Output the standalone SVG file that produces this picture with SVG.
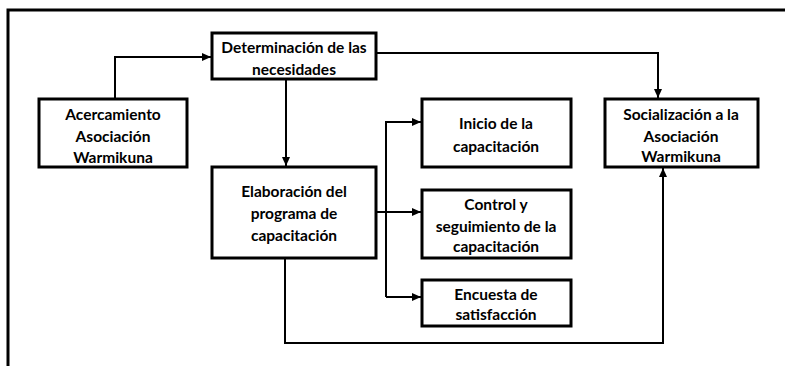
<svg xmlns="http://www.w3.org/2000/svg" width="785" height="366" viewBox="0 0 785 366">
<style>
.box{fill:#fff;stroke:#000;stroke-width:3}
.frame{fill:none;stroke:#000;stroke-width:3}
.con{fill:none;stroke:#000;stroke-width:2}
text{font-family:Lato,"Open Sans","Liberation Sans",sans-serif;font-weight:bold;font-size:15.5px;text-anchor:middle;fill:#000}
</style>
<defs>
<marker id="ah" viewBox="0 0 10 10" refX="10" refY="5" markerWidth="9" markerHeight="8" markerUnits="userSpaceOnUse" orient="auto" preserveAspectRatio="none">
<path d="M0,0 L10,5 L0,10 z" fill="#000"/>
</marker>
</defs>
<path class="frame" d="M8,366 V10 H785"/>
<g id="connectors">
<path class="con" d="M115,99 V57 H211" marker-end="url(#ah)"/>
<path class="con" d="M286,79 V166" marker-end="url(#ah)"/>
<path class="con" d="M376,53 H658 V98" marker-end="url(#ah)"/>
<path class="con" d="M376,212 H421" marker-end="url(#ah)"/>
<path class="con" d="M386,297 V122 H421" marker-end="url(#ah)"/>
<path class="con" d="M386,297 H421" marker-end="url(#ah)"/>
<path class="con" d="M285,258 V343 H663 V168" marker-end="url(#ah)"/>
</g>
<g id="n-det">
<rect class="box" x="212" y="33" width="164" height="46"/>
<text x="294" y="53">Determinación de las</text>
<text x="294" y="75">necesidades</text>
</g>
<g id="n-acer">
<rect class="box" x="39" y="99" width="148" height="68"/>
<text x="113" y="120">Acercamiento</text>
<text x="113" y="142">Asociación</text>
<text x="113" y="163">Warmikuna</text>
</g>
<g id="n-elab">
<rect class="box" x="212" y="167" width="164" height="91"/>
<text x="294" y="197">Elaboración del</text>
<text x="294" y="219">programa de</text>
<text x="294" y="241">capacitación</text>
</g>
<g id="n-inicio">
<rect class="box" x="422" y="99" width="149" height="68"/>
<text x="496" y="129">Inicio de la</text>
<text x="496" y="152">capacitación</text>
</g>
<g id="n-control">
<rect class="box" x="422" y="190" width="149" height="68"/>
<text x="496" y="210">Control y</text>
<text x="496" y="232">seguimiento de la</text>
<text x="496" y="252">capacitación</text>
</g>
<g id="n-encuesta">
<rect class="box" x="422" y="280" width="149" height="46"/>
<text x="496" y="300">Encuesta de</text>
<text x="496" y="320">satisfacción</text>
</g>
<g id="n-social">
<rect class="box" x="605" y="99" width="153" height="68"/>
<text x="681" y="120">Socialización a la</text>
<text x="681" y="142">Asociación</text>
<text x="681" y="162">Warmikuna</text>
</g>
</svg>
